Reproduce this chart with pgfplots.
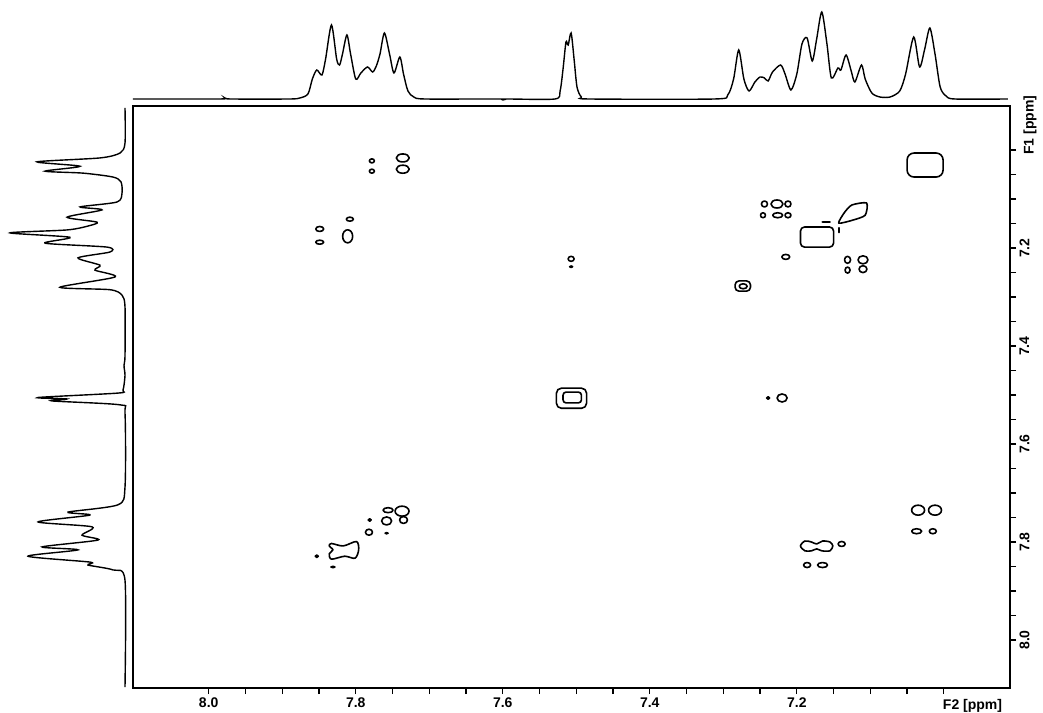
\documentclass[border=0pt]{standalone}
\usepackage{pgfplots}
\pgfplotsset{compat=1.18}
\usepackage{fontspec}
\setmainfont{Liberation Sans}
\pgfplotsset{ct/.style={black, line width=1.6pt, line join=round, line cap=round}}
% ellipse-like contour: [opts]{cx}{cy}{rx}{ry}
\newcommand{\pk}[5][]{%
  \pgfmathsetmacro\pxa{#2+#4}\pgfmathsetmacro\pxb{#2-#4}%
  \pgfmathsetmacro\pya{#3+#5}\pgfmathsetmacro\pyb{#3-#5}%
  \edef\tmp{\noexpand\addplot[ct,#1,smooth cycle,tension=1] coordinates {(\pxa,#3) (#2,\pya) (\pxb,#3) (#2,\pyb)};}\tmp}
% rounded rectangle contour: [opts]{x1}{x2}{y1}{y2}{radius}
\newcommand{\rr}[6][]{%
  \pgfmathsetmacro\pxm{(#2+#3)/2}%
  \edef\tmp{\noexpand\addplot[ct,#1,rounded corners=#6] coordinates {(\pxm,#4) (#3,#4) (#3,#5) (#2,#5) (#2,#4) (\pxm,#4)};}\tmp}
\begin{document}
\begin{tikzpicture}[x=1pt,y=1pt]
\useasboundingbox (0,0) rectangle (1043,712);
% ---------------- top projection (F2) ----------------
\begin{axis}[at={(133pt,606pt)}, anchor=south west, scale only axis,
  width=877pt, height=106pt, x dir=reverse,
  xmin=6.910, xmax=8.103, ymin=-7, ymax=99, axis lines=none, clip=false]
\addplot[black, line width=1.4pt, smooth, tension=0.45] coordinates {
(8.103,0) (7.985,0) (7.978,1) (7.970,0) (7.890,0) (7.876,1) (7.865,5) (7.859,20) (7.853,29) (7.846,24) (7.841,40) (7.833,74) (7.826,40) (7.822,34) (7.818,45) (7.812,64) (7.807,45) (7.800,20) (7.793,26) (7.784,32) (7.777,27) (7.772,33) (7.767,45) (7.761,66) (7.754,45) (7.748,26) (7.740,42) (7.735,25) (7.729,8) (7.721,2) (7.706,0) (7.604,0) (7.600,-1) (7.596,0) (7.529,0) (7.522,8) (7.518,30) (7.514,57) (7.511,54) (7.507,66) (7.503,40) (7.499,12) (7.493,2) (7.482,0) (7.312,0) (7.294,4) (7.286,20) (7.279,49) (7.272,20) (7.265,8) (7.257,17) (7.250,22) (7.244,21) (7.239,18) (7.233,27) (7.222,34) (7.216,25) (7.208,9) (7.200,25) (7.193,55) (7.186,61) (7.179,38) (7.173,60) (7.166,87) (7.159,55) (7.153,21) (7.144,31) (7.140,29) (7.133,44) (7.126,28) (7.121,17) (7.112,34) (7.107,20) (7.098,6) (7.087,2) (7.073,2) (7.060,8) (7.052,25) (7.041,62) (7.033,32) (7.026,50) (7.019,71) (7.012,45) (7.005,12) (6.997,3) (6.985,0) (6.913,0)};
\end{axis}
% ---------------- left projection (F1) ----------------
\begin{axis}[at={(0pt,24pt)}, anchor=south west, scale only axis,
  width=133pt, height=582pt, x dir=reverse, y dir=reverse,
  xmin=-8, xmax=125, ymin=6.910, ymax=8.098, axis lines=none, clip=false]
\addplot[black, line width=1.4pt, smooth, tension=0.45] coordinates {
(0,6.914) (0,6.986) (5,7.006) (25,7.016) (88,7.024) (45,7.033) (80,7.043) (42,7.047) (12,7.055) (4,7.065) (3,7.088) (8,7.106) (45,7.116) (23,7.122) (58,7.137) (28,7.147) (37,7.155) (58,7.163) (115,7.169) (55,7.178) (80,7.190) (18,7.198) (15,7.208) (47,7.220) (25,7.235) (30,7.245) (10,7.259) (65,7.280) (15,7.285) (3,7.296) (0,7.320) (0,7.420) (1,7.440) (0,7.460) (2,7.490) (7,7.496) (87,7.505) (58,7.508) (73,7.512) (5,7.520) (0,7.537) (0,7.688) (7,7.724) (57,7.739) (35,7.745) (87,7.759) (33,7.769) (43,7.786) (27,7.796) (83,7.810) (47,7.816) (97,7.829) (35,7.841) (37,7.847) (12,7.857) (0,7.878) (0,8.096)};
\end{axis}
% ---------------- main 2D contour axis ----------------
\begin{axis}[at={(133pt,24pt)}, anchor=south west, scale only axis,
  width=877pt, height=582pt, x dir=reverse, y dir=reverse,
  xmin=6.910, xmax=8.103, ymin=6.910, ymax=8.098, clip=false,
  axis line style={black, line width=1.3pt},
  xtick={8.0,7.8,7.6,7.4,7.2,7.0}, xticklabels={8.0,7.8,7.6,7.4,7.2,},
  ytick={7.0,7.2,7.4,7.6,7.8,8.0}, yticklabels={,7.2,7.4,7.6,7.8,8.0},
  minor x tick num=3, minor y tick num=3,
  xtick pos=left, ytick pos=right, yticklabel pos=right,
  tick align=outside, major tick length=6pt, minor tick length=6pt,
  tick style={black, line width=1.2pt},
  ticklabel style={font=\bfseries\fontsize{14}{14}\selectfont},
  yticklabel style={rotate=90, anchor=north},
  xticklabel style={anchor=north}]
% upper-left group (F1 ~7.0-7.2)
\pk{7.778}{7.022}{0.0034}{0.0041}
\pk{7.778}{7.043}{0.0034}{0.0041}
\pk{7.736}{7.016}{0.0088}{0.0082}
\pk{7.736}{7.039}{0.0088}{0.0082}
\pk{7.849}{7.161}{0.0054}{0.0051}
\pk{7.849}{7.188}{0.0054}{0.0041}
\pk{7.808}{7.141}{0.0048}{0.0041}
\pk{7.811}{7.176}{0.0068}{0.0133}
% upper-right group
\pk{7.244}{7.110}{0.0041}{0.0061}
\pk{7.227}{7.110}{0.0082}{0.0082}
\pk{7.212}{7.110}{0.0041}{0.0061}
\pk{7.246}{7.133}{0.0034}{0.0051}
\pk{7.226}{7.133}{0.0068}{0.0051}
\pk{7.212}{7.133}{0.0041}{0.0051}
\addplot[ct, smooth cycle, tension=0.4] coordinates {(7.143,7.149) (7.135,7.127) (7.125,7.112) (7.105,7.108) (7.107,7.133) (7.124,7.143)};
\addplot[ct, line width=2.2pt] coordinates {(7.165,7.147) (7.155,7.147)};
\addplot[ct, line width=2.2pt] coordinates {(7.143,7.159) (7.143,7.168)};
\rr{7.195}{7.150}{7.157}{7.198}{4pt}
\pk{7.215}{7.218}{0.0054}{0.0051}
\pk{7.131}{7.224}{0.0041}{0.0071}
\pk{7.131}{7.245}{0.0034}{0.0061}
\pk{7.110}{7.224}{0.0068}{0.0082}
\pk{7.110}{7.243}{0.0054}{0.0071}
\rr{7.284}{7.263}{7.267}{7.288}{4pt}
\pk{7.273}{7.278}{0.0054}{0.0051}
\pk{7.507}{7.222}{0.0041}{0.0051}
\pk[fill=black]{7.507}{7.238}{0.0020}{0.0015}
% 7.5 diagonal
\rr{7.527}{7.486}{7.486}{7.527}{5pt}
\rr{7.518}{7.493}{7.494}{7.516}{3pt}
\pk[fill=black]{7.239}{7.506}{0.0020}{0.0025}
\pk{7.220}{7.506}{0.0068}{0.0082}
% 7.02 diagonal
\rr{7.050}{7.001}{7.006}{7.055}{7pt}
% lower-left group
\addplot[ct, smooth cycle, tension=0.5] coordinates {(7.833,7.803) (7.817,7.808) (7.799,7.799) (7.796,7.816) (7.801,7.833) (7.815,7.829) (7.833,7.835) (7.836,7.824) (7.831,7.816) (7.836,7.808)};
\pk[fill=black]{7.853}{7.829}{0.0020}{0.0025}
\pk[fill=black]{7.831}{7.851}{0.0027}{0.0015}
\pk{7.782}{7.780}{0.0048}{0.0061}
\pk[fill=black]{7.781}{7.755}{0.0020}{0.0025}
\pk{7.758}{7.757}{0.0068}{0.0082}
\pk{7.756}{7.735}{0.0068}{0.0051}
\pk{7.737}{7.737}{0.0095}{0.0102}
\pk{7.735}{7.755}{0.0054}{0.0071}
\pk[fill=black]{7.758}{7.782}{0.0020}{0.0012}
% lower-right group
\pk{7.035}{7.735}{0.0088}{0.0102}
\pk{7.012}{7.735}{0.0088}{0.0102}
\pk{7.037}{7.778}{0.0068}{0.0051}
\pk{7.015}{7.778}{0.0048}{0.0051}
\addplot[ct, smooth cycle, tension=0.5] coordinates {(7.195,7.808) (7.189,7.798) (7.180,7.800) (7.173,7.804) (7.165,7.798) (7.155,7.800) (7.151,7.808) (7.155,7.818) (7.166,7.818) (7.173,7.814) (7.180,7.818) (7.189,7.818)};
\pk{7.139}{7.804}{0.0048}{0.0051}
\pk{7.186}{7.847}{0.0048}{0.0051}
\pk{7.165}{7.847}{0.0068}{0.0051}
% axis titles in place of the 7.0 labels
\node[anchor=north, font=\bfseries\fontsize{14}{14}\selectfont, yshift=-8pt] at (axis cs:6.961,8.098) {F2 [ppm]};
\node[anchor=north, rotate=90, font=\bfseries\fontsize{14}{14}\selectfont] at ([xshift=10pt]axis cs:6.910,6.949) {F1 [ppm]};
\end{axis}
\end{tikzpicture}
\end{document}
